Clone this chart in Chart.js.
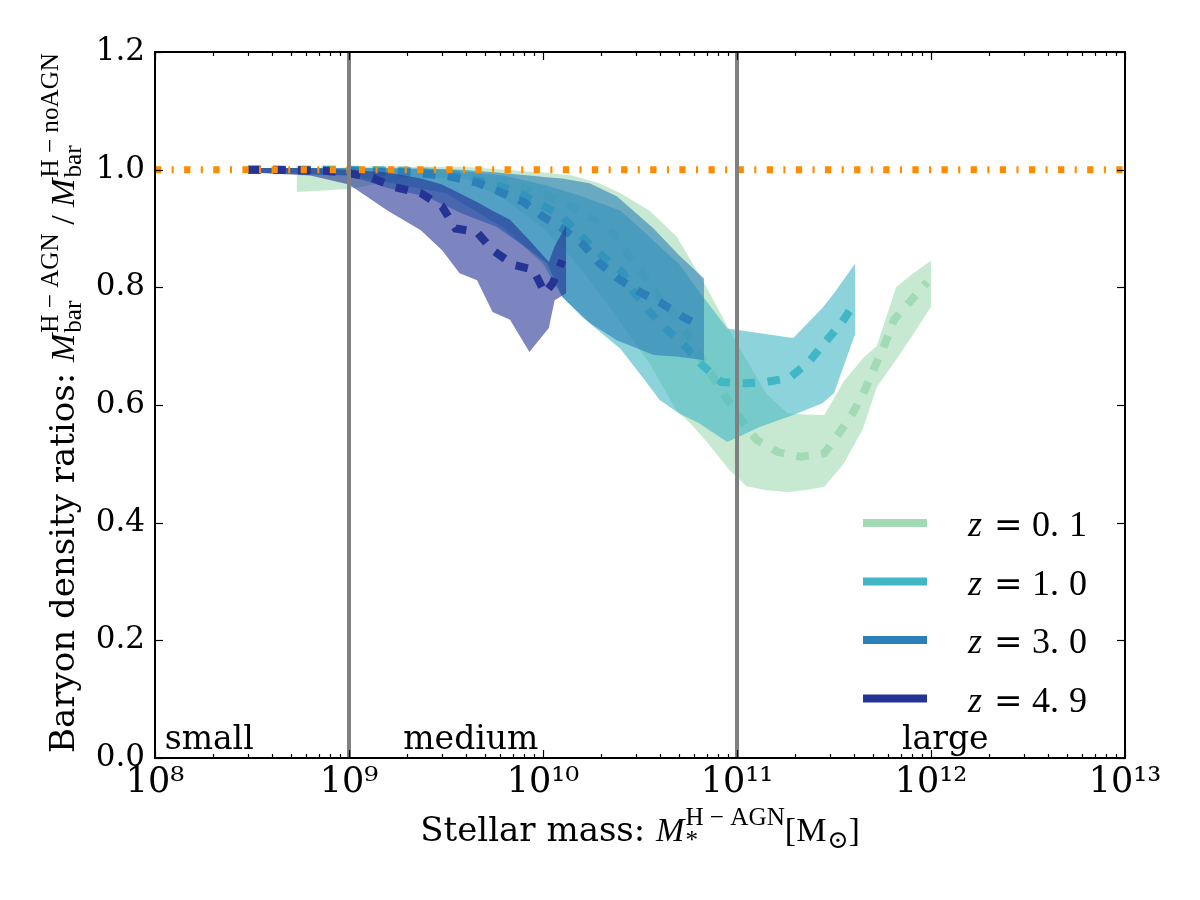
<!DOCTYPE html>
<html>
<head>
<meta charset="utf-8">
<script src="https://cdn.jsdelivr.net/npm/chart.js@4.4.1/dist/chart.umd.min.js"></script>
<style>
html,body{margin:0;padding:0;background:#ffffff;}
#wrap{width:1200px;height:900px;}
</style>
</head>
<body>
<div id="wrap"><canvas id="c" width="1200" height="900"></canvas></div>
<script>
// ---------------- data ----------------
const redshiftLabels = ['0.1', '1.0', '3.0', '4.9'];
const seriesColors = ['#a1dab4', '#41b6c4', '#2c7fb8', '#253494'];

// z = 0.1 : scatter band (log10 stellar mass, upper / lower ratio) and median line
const band01LogM  = [8.73, 9.0, 9.3, 9.6, 9.8, 10.0, 10.15, 10.29, 10.4, 10.55, 10.69, 10.77, 10.85, 10.96, 11.05, 11.15, 11.26, 11.35, 11.45, 11.55, 11.65, 11.72, 11.82, 11.9, 12.0];
const band01Upper = [0.995, 1.005, 1.005, 1.005, 1.0, 0.995, 0.99, 0.977, 0.96, 0.93, 0.886, 0.841, 0.796, 0.728, 0.676, 0.62, 0.586, 0.584, 0.583, 0.64, 0.68, 0.70, 0.80, 0.822, 0.845];
const band01Lower = [0.962, 0.967, 0.985, 0.985, 0.95, 0.90, 0.85, 0.79, 0.74, 0.67, 0.59, 0.565, 0.535, 0.49, 0.462, 0.455, 0.452, 0.455, 0.461, 0.50, 0.56, 0.63, 0.677, 0.716, 0.767];
const mean01LogM  = [8.73, 9.0, 9.4, 9.6, 9.8, 9.92, 10.03, 10.15, 10.27, 10.37, 10.44, 10.52, 10.59, 10.67, 10.75, 10.81, 10.88, 10.95, 11.03, 11.1, 11.21, 11.33, 11.45, 11.53, 11.6, 11.66, 11.71, 11.76, 11.81, 11.89, 11.98];
const mean01Ratio = [1.0, 1.0, 0.998, 0.99, 0.979, 0.967, 0.954, 0.937, 0.914, 0.889, 0.855, 0.821, 0.787, 0.755, 0.718, 0.682, 0.646, 0.609, 0.571, 0.541, 0.52, 0.512, 0.518, 0.554, 0.588, 0.626, 0.665, 0.702, 0.745, 0.775, 0.809];

// z = 1.0
const band10LogM  = [8.5, 9.0, 9.5, 9.8, 10.0, 10.1, 10.2, 10.4, 10.53, 10.6, 10.7, 10.8, 10.95, 11.12, 11.29, 11.44, 11.5, 11.61];
const band10Upper = [1.003, 1.003, 1.0, 0.99, 0.975, 0.965, 0.955, 0.93, 0.892, 0.87, 0.84, 0.795, 0.73, 0.722, 0.714, 0.765, 0.79, 0.841];
const band10Lower = [0.995, 0.99, 0.96, 0.90, 0.84, 0.784, 0.75, 0.695, 0.64, 0.609, 0.586, 0.57, 0.537, 0.563, 0.583, 0.603, 0.62, 0.722];
const mean10LogM  = [8.48, 9.0, 9.3, 9.55, 9.73, 9.88, 9.98, 10.1, 10.2, 10.3, 10.41, 10.46, 10.55, 10.64, 10.74, 10.82, 10.92, 11.04, 11.15, 11.27, 11.37, 11.45, 11.54, 11.6];
const mean10Ratio = [1.0, 1.0, 0.998, 0.99, 0.977, 0.96, 0.943, 0.92, 0.886, 0.855, 0.826, 0.795, 0.758, 0.728, 0.697, 0.668, 0.639, 0.637, 0.639, 0.646, 0.673, 0.705, 0.74, 0.77];

// z = 3.0
const band30LogM  = [8.5, 9.0, 9.2, 9.4, 9.58, 9.76, 9.93, 10.02, 10.1, 10.24, 10.38, 10.57, 10.7, 10.83];
const band30Upper = [1.003, 1.003, 1.003, 1.002, 1.0, 0.995, 0.99, 0.987, 0.985, 0.977, 0.955, 0.90, 0.855, 0.815];
const band30Lower = [0.995, 0.99, 0.969, 0.954, 0.926, 0.903, 0.864, 0.841, 0.783, 0.74, 0.71, 0.685, 0.682, 0.676];
const mean30LogM  = [8.48, 9.0, 9.3, 9.5, 9.66, 9.78, 9.9, 10.0, 10.1, 10.2, 10.29, 10.4, 10.5, 10.61, 10.72, 10.82];
const mean30Ratio = [1.0, 0.998, 0.995, 0.99, 0.978, 0.962, 0.945, 0.92, 0.90, 0.875, 0.841, 0.812, 0.792, 0.773, 0.75, 0.733];

// z = 4.9
const band49LogM  = [8.48, 8.8, 9.0, 9.2, 9.37, 9.48, 9.57, 9.66, 9.74, 9.83, 9.93, 10.03, 10.06, 10.12];
const band49Upper = [1.003, 1.003, 1.0, 0.995, 0.985, 0.975, 0.96, 0.945, 0.93, 0.915, 0.88, 0.843, 0.87, 0.905];
const band49Lower = [0.995, 0.99, 0.975, 0.93, 0.897, 0.863, 0.824, 0.812, 0.758, 0.745, 0.69, 0.731, 0.778, 0.79];
const mean49LogM  = [8.48, 8.61, 8.87, 8.99, 9.12, 9.24, 9.37, 9.48, 9.55, 9.66, 9.74, 9.85, 9.95, 10.01, 10.05, 10.1];
const mean49Ratio = [1.0, 1.0, 0.998, 0.995, 0.986, 0.97, 0.96, 0.937, 0.90, 0.894, 0.863, 0.838, 0.83, 0.79, 0.807, 0.846];

const referenceRatio = 1.0;
const sizeBoundaryMass = [1e9, 1e11];
const regionLabels = ['small', 'medium', 'large'];
const regionLabelLogM = [8.05, 9.28, 11.85];
const xTickValues = [1e8, 1e9, 1e10, 1e11, 1e12, 1e13];
const xTickLabels = ['10\u2078', '10\u2079', '10\u00B9\u2070', '10\u00B9\u00B9', '10\u00B9\u00B2', '10\u00B9\u00B3'];
const yTickValues = [0.0, 0.2, 0.4, 0.6, 0.8, 1.0, 1.2];
const yTickLabels = ['0.0', '0.2', '0.4', '0.6', '0.8', '1.0', '1.2'];

// ---------------- build datasets ----------------
const bands = [
  [band01LogM, band01Upper, band01Lower, mean01LogM, mean01Ratio],
  [band10LogM, band10Upper, band10Lower, mean10LogM, mean10Ratio],
  [band30LogM, band30Upper, band30Lower, mean30LogM, mean30Ratio],
  [band49LogM, band49Upper, band49Lower, mean49LogM, mean49Ratio]
];
function pts(logs, vals) { return logs.map((l, i) => ({ x: Math.pow(10, l), y: vals[i] })); }
function rgba(hex, a) {
  const n = parseInt(hex.slice(1), 16);
  return `rgba(${(n >> 16) & 255},${(n >> 8) & 255},${n & 255},${a})`;
}
const datasets = [];
let ord = 100;
bands.forEach((b, i) => {
  const col = seriesColors[i];
  datasets.push({ label: 'upper z=' + redshiftLabels[i], data: pts(b[0], b[1]), borderWidth: 0, pointRadius: 0,
    backgroundColor: rgba(col, 0.6), borderColor: rgba(col, 0.6), fill: '+1', tension: 0, order: ord-- });
  datasets.push({ label: 'lower z=' + redshiftLabels[i], data: pts(b[0], b[2]), borderWidth: 0, pointRadius: 0,
    borderColor: rgba(col, 0.6), fill: false, tension: 0, order: ord-- });
  datasets.push({ label: 'z = ' + redshiftLabels[i], data: pts(b[3], b[4]), borderWidth: 8, pointRadius: 0,
    borderColor: col, borderDash: [12.5, 12.5], borderCapStyle: 'butt', fill: false, tension: 0, order: ord-- });
});
datasets.push({ label: 'reference', data: [{ x: 1e8, y: referenceRatio }, { x: 1e13, y: referenceRatio }],
  borderColor: '#ff8c00', borderWidth: 7, borderDash: [6.25, 10.4, 2.08, 10.4], borderCapStyle: 'butt',
  pointRadius: 0, fill: false, order: 3 });
sizeBoundaryMass.forEach((m, k) => {
  datasets.push({ label: 'boundary ' + k, data: [{ x: m, y: 0 }, { x: m, y: 1.2 }], borderColor: '#808080',
    borderWidth: 4, pointRadius: 0, fill: false, order: 1 });
});

// ---------------- text helpers ----------------
const DV = '"DejaVu Serif"';
const LS = '"Liberation Serif", "DejaVu Serif"';
function drawRich(ctx, segs, x0, y0, size, draw) {
  let x = x0;
  segs.forEach(s => {
    if (s.text !== undefined) {
      ctx.font = `${s.italic ? 'italic ' : ''}${size}px ${s.family}`;
      if (draw) ctx.fillText(s.text, x, y0);
      x += ctx.measureText(s.text).width;
    } else {
      const ss = size * 0.74;
      ctx.font = `${ss}px ${s.family}`;
      let w = 0;
      if (s.sup) { if (draw) ctx.fillText(s.sup, x + 1, y0 - size * 0.47); w = Math.max(w, ctx.measureText(s.sup).width + 1); }
      if (s.sub) { if (draw) ctx.fillText(s.sub, x + 1, y0 + size * 0.22); w = Math.max(w, ctx.measureText(s.sub).width + 1); }
      x += w;
    }
  });
  return x - x0;
}
const yTitleSegs = [
  { text: 'Baryon density ratios: ', family: DV },
  { text: 'M', italic: true, family: LS },
  { sup: 'H \u2212 AGN', sub: 'bar', family: LS },
  { text: ' / ', family: LS },
  { text: 'M', italic: true, family: LS },
  { sup: 'H \u2212 noAGN', sub: 'bar', family: LS }
];
const xTitleSegs = [
  { text: 'Stellar mass: ', family: DV },
  { text: 'M', italic: true, family: LS },
  { sup: 'H \u2212 AGN', sub: '*', family: LS },
  { text: '[M', family: LS },
  { sub: '\u2299', family: LS },
  { text: ']', family: LS }
];

const decor = {
  id: 'decor',
  afterDraw(chart) {
    const ctx = chart.ctx, a = chart.chartArea, xs = chart.scales.x, ys = chart.scales.y;
    ctx.save();
    ctx.strokeStyle = '#000';
    ctx.lineWidth = 1.2;
    const seg = (x1, y1, x2, y2) => { ctx.beginPath(); ctx.moveTo(x1, y1); ctx.lineTo(x2, y2); ctx.stroke(); };
    // inward ticks, x (major + minor) on bottom and top
    for (let e = 8; e <= 13; e++) {
      for (let m = 1; m <= 9; m++) {
        const v = m * Math.pow(10, e);
        if (v > 1e13) break;
        const px = Math.round(xs.getPixelForValue(v)) + 0.5;
        const len = m === 1 ? 8 : 4;
        seg(px, a.bottom, px, a.bottom - len);
        seg(px, a.top, px, a.top + len);
      }
    }
    // inward ticks, y
    yTickValues.forEach(v => {
      const py = Math.round(ys.getPixelForValue(v)) + 0.5;
      seg(a.left, py, a.left + 8, py);
      seg(a.right, py, a.right - 8, py);
    });
    // frame
    ctx.lineWidth = 2;
    ctx.strokeRect(a.left, a.top, a.right - a.left, a.bottom - a.top);

    ctx.fillStyle = '#000';
    ctx.textBaseline = 'alphabetic';
    ctx.textAlign = 'left';
    // region labels
    ctx.font = `33px ${DV}`;
    regionLabels.forEach((t, i) => {
      ctx.fillText(t, xs.getPixelForValue(Math.pow(10, regionLabelLogM[i])), a.bottom - 9);
    });
    // legend
    const lx0 = a.right - 262, lx1 = a.right - 198;
    seriesColors.forEach((c, i) => {
      const ly = a.bottom - 235 + i * 58.5;
      ctx.strokeStyle = c;
      ctx.lineWidth = 8;
      ctx.lineCap = 'butt';
      seg(lx0, ly, lx1, ly);
      const base = ly + 13;
      ctx.fillStyle = '#000';
      ctx.font = `italic 36px ${LS}`;
      ctx.fillText('z', a.right - 157, base);
      ctx.font = `34px ${DV}`;
      ctx.fillText('=', a.right - 131, base);
      ctx.font = `36px ${LS}`;
      const parts = redshiftLabels[i].split('.');
      ctx.fillText(parts[0] + '.', a.right - 93, base);
      ctx.textAlign = 'right';
      ctx.fillText(parts[1], a.right - 38, base);
      ctx.textAlign = 'left';
    });
    // axis titles
    ctx.fillStyle = '#000';
    const size = 34;
    const wx = drawRich(ctx, xTitleSegs, 0, 0, size, false);
    drawRich(ctx, xTitleSegs, (a.left + a.right) / 2 - wx / 2, 841, size, true);
    const wy = drawRich(ctx, yTitleSegs, 0, 0, size, false);
    ctx.translate(74, (a.top + a.bottom) / 2 - 2);
    ctx.rotate(-Math.PI / 2);
    drawRich(ctx, yTitleSegs, -wy / 2, 0, size, true);
    ctx.restore();
  }
};

new Chart(document.getElementById('c'), {
  type: 'line',
  data: { datasets },
  options: {
    responsive: false,
    animation: false,
    devicePixelRatio: 1,
    events: [],
    layout: { padding: { top: 52, right: 75, left: 0, bottom: 0 } },
    plugins: { legend: { display: false }, tooltip: { enabled: false } },
    scales: {
      x: {
        type: 'logarithmic', min: 1e8, max: 1e13,
        grid: { display: false, drawTicks: false }, border: { display: false },
        afterBuildTicks: s => { s.ticks = xTickValues.map(v => ({ value: v })); },
        afterFit: s => { s.height = 142; },
        ticks: {
          autoSkip: false, maxRotation: 0, minRotation: 0, padding: 4, color: '#000',
          font: { family: 'DejaVu Serif', size: 35 },
          callback: (v, i) => xTickLabels[i]
        }
      },
      y: {
        type: 'linear', min: 0, max: 1.2,
        grid: { display: false, drawTicks: false }, border: { display: false },
        afterBuildTicks: s => { s.ticks = yTickValues.map(v => ({ value: v })); },
        afterFit: s => { s.width = 155; },
        ticks: {
          autoSkip: false, padding: 10, color: '#000',
          font: { family: 'DejaVu Serif', size: 31 },
          callback: (v, i) => yTickLabels[i]
        }
      }
    }
  },
  plugins: [decor]
});
</script>
</body>
</html>
